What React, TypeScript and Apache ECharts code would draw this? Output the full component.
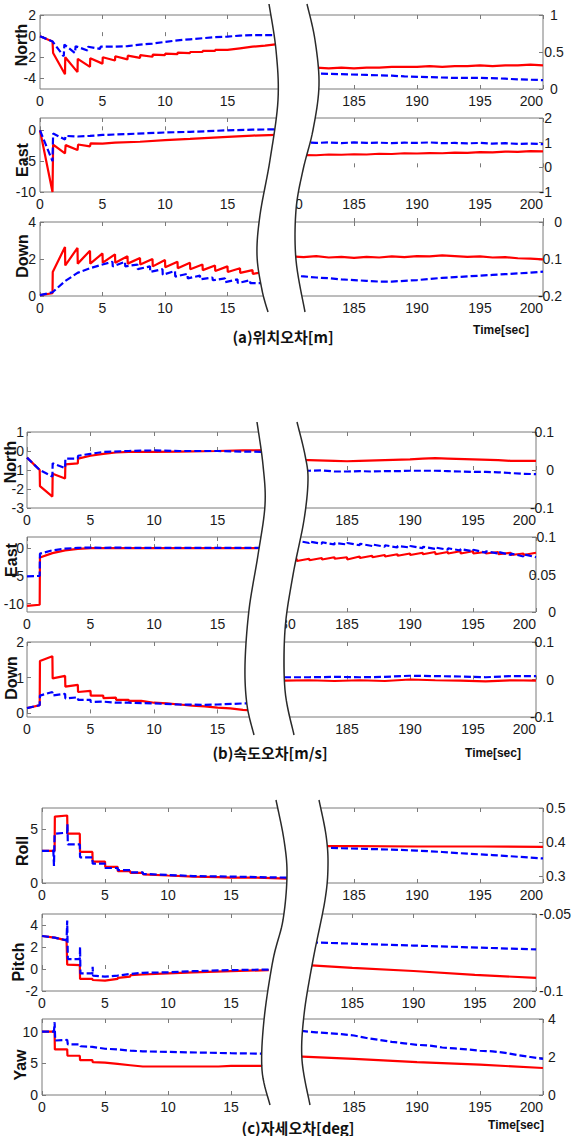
import React, { useEffect, useRef } from "react";
import * as echarts from "echarts";

// ---------- data: [time, value] ----------
// (a) position error
const aNorthRedL = [[0,0],[1,-0.5],[1.05,-1.6],[2,-3.6],[2.02,-2.0],[3,-3.4],[3.02,-2.15],[4,-2.9],[4.02,-2.1],[5,-2.6],[5.02,-2.0],[6,-2.3],[6.02,-1.9],[7,-2.2],[7.02,-1.85],[8,-2.05],[8.02,-1.8],[9,-1.95],[9.02,-1.75],[10,-1.8],[10.02,-1.65],[11,-1.7],[11.02,-1.55],[12,-1.6],[12.02,-1.5],[13,-1.5],[13.02,-1.4],[14,-1.4],[14.02,-1.3],[15,-1.3],[16,-1.15],[17,-1.0],[18,-0.9],[19,-0.75],[19.5,-0.7]];
const aNorthBlueL = [[0,0],[1,-0.5],[1.9,-1.9],[1.95,-0.8],[2.8,-1.6],[2.85,-0.95],[3.8,-1.35],[3.85,-1.0],[4.8,-1.2],[4.85,-1.0],[6,-1.0],[7,-0.95],[8,-0.8],[9,-0.7],[10,-0.55],[11,-0.4],[12,-0.3],[13,-0.2],[14,-0.1],[15,-0.05],[16,0.05],[17,0.1],[18,0.1],[19.5,0.1]];
const aNorthRedR = [[180,0.29],[181,0.28],[182,0.29],[183,0.28],[184,0.29],[185,0.28],[186,0.29],[187,0.29],[188,0.3],[189,0.3],[190,0.3],[191,0.31],[192,0.3],[193,0.31],[194,0.31],[195,0.32],[196,0.31],[197,0.32],[198,0.32],[199,0.33],[200,0.32]];
const aNorthBlueR = [[180,0.21],[182,0.21],[184,0.2],[186,0.19],[188,0.18],[189,0.17],[191,0.16],[193,0.15],[195,0.15],[197,0.14],[198,0.13],[200,0.12]];

const aEastRedL = [[0,0],[1,-10],[1.05,-2.3],[2,-3.75],[2.05,-2.4],[3,-3.2],[3.05,-2.3],[4,-2.6],[4.05,-2.1],[5,-2.15],[6,-2.0],[8,-1.85],[10,-1.6],[12,-1.4],[15,-1.05],[17,-0.85],[19.5,-0.7]];
const aEastBlueL = [[0,0],[1,-5],[1.05,-0.5],[2,-1.5],[2.05,-0.9],[3,-1.0],[4,-0.9],[5,-0.75],[7,-0.6],[10,-0.35],[12,-0.25],[15,0.0],[17,0.1],[19.5,0.2]];
const aEastRedR = [[180,0.48],[181,0.5],[182,0.49],[183,0.52],[184,0.51],[185,0.53],[186,0.52],[187,0.55],[188,0.54],[189,0.57],[190,0.56],[191,0.58],[192,0.57],[193,0.6],[194,0.59],[195,0.62],[196,0.61],[197,0.64],[198,0.63],[199,0.66],[200,0.65]];
const aEastBlueR = [[180,1.0],[181,1.02],[182,0.99],[183,1.01],[184,0.98],[185,1.01],[186,0.99],[187,1.0],[188,0.98],[189,1.0],[190,0.99],[191,1.01],[192,0.98],[193,0.99],[194,0.97],[195,0.99],[196,0.96],[197,0.98],[198,0.95],[199,0.96],[200,0.94]];

const aDownRedL = [[0,0.05],[1,0.15],[1.02,1.3],[2,2.65],[2.02,1.65],[3,2.6],[3.02,1.75],[4,2.45],[4.02,1.75],[5,2.3],[5.02,1.8],[6,2.25],[6.02,1.8],[7,2.15],[7.02,1.75],[8,2.05],[8.02,1.7],[9,2.0],[9.02,1.6],[10,1.95],[10.02,1.55],[11,1.85],[11.02,1.5],[12,1.8],[12.02,1.45],[13,1.7],[13.02,1.4],[14,1.65],[14.02,1.35],[15,1.6],[15.02,1.3],[16,1.5],[16.02,1.25],[17,1.4],[17.02,1.2],[18,1.3]];
const aDownBlueL = [[0,0.05],[1,0.2],[2,0.8],[3,1.25],[4,1.5],[5,1.7],[5.8,1.85],[5.82,1.6],[6.8,1.85],[6.82,1.6],[7.8,1.7],[7.82,1.45],[8.8,1.6],[8.82,1.3],[9.8,1.45],[9.82,1.15],[10.8,1.35],[10.82,1.05],[11.8,1.2],[11.82,0.95],[12.8,1.1],[12.82,0.9],[13.8,1.0],[13.82,0.85],[14.8,0.95],[14.82,0.75],[15.8,0.9],[15.82,0.7],[16.8,0.85],[16.82,0.7],[18,0.7]];
const aDownRedR = [[180,-0.093],[181,-0.095],[182,-0.092],[183,-0.096],[184,-0.094],[185,-0.097],[186,-0.094],[187,-0.096],[188,-0.093],[189,-0.095],[190,-0.092],[191,-0.093],[192,-0.09],[193,-0.092],[194,-0.094],[195,-0.093],[196,-0.096],[197,-0.095],[198,-0.098],[199,-0.099],[200,-0.101]];
const aDownBlueR = [[180,-0.145],[181,-0.147],[182,-0.15],[183,-0.152],[184,-0.155],[185,-0.157],[186,-0.159],[187,-0.161],[188,-0.161],[189,-0.159],[190,-0.157],[191,-0.154],[192,-0.151],[193,-0.149],[194,-0.147],[195,-0.145],[196,-0.143],[197,-0.141],[198,-0.139],[199,-0.137],[200,-0.134]];

// (b) velocity error
const bNorthRedL = [[0,-0.35],[1,-1.0],[1.02,-1.85],[2,-2.4],[2.02,-1.2],[3,-1.45],[3.02,-0.7],[4,-0.65],[4.02,-0.4],[5,-0.25],[6,-0.15],[7,-0.08],[8,-0.05],[10,-0.05],[12,-0.03],[15,0.0],[17,0.03],[19.5,0.05]];
const bNorthBlueL = [[0,-0.35],[1,-1.0],[2,-1.35],[2.02,-0.65],[3,-0.9],[3.02,-0.4],[4,-0.4],[4.02,-0.25],[5,-0.15],[6,-0.05],[8,0.0],[10,0.03],[12,0.0],[15,0.0],[17,-0.03],[19.5,-0.05]];
const bNorthRedR = [[180,0.027],[182,0.026],[184,0.024],[185,0.023],[186,0.024],[188,0.026],[190,0.028],[191,0.03],[192,0.031],[193,0.03],[195,0.028],[197,0.026],[198,0.024],[200,0.024]];
const bNorthBlueR = [[180,0.0],[181,0.0],[182,-0.002],[183,-0.001],[184,-0.004],[185,-0.004],[186,-0.003],[187,-0.004],[188,-0.003],[189,-0.003],[190,-0.002],[191,-0.002],[192,-0.002],[193,-0.003],[194,-0.004],[195,-0.005],[196,-0.005],[197,-0.006],[198,-0.008],[199,-0.01],[200,-0.011]];

const bEastRedL = [[0,-10.4],[1,-10.2],[1.02,-1.7],[2,-0.9],[3,-0.4],[4,-0.15],[5,0.0],[6,0.0],[10,0.0],[15,0.0],[19.5,0.0]];
const bEastBlueL = [[0,-5.1],[1,-5.0],[1.02,-1.0],[2,-0.4],[3,-0.1],[4,0.05],[5,0.1],[6,0.05],[7,0.1],[8,0.05],[10,0.05],[15,0.05],[19.5,0.05]];
const bEastRedR = [[180,0.07],[181,0.071],[181.02,0.068],[182,0.071],[182.02,0.069],[183,0.072],[183.02,0.07],[184,0.073],[184.02,0.071],[185,0.073],[185.02,0.07],[186,0.074],[186.02,0.072],[187,0.075],[187.02,0.073],[188,0.076],[188.02,0.074],[189,0.077],[189.02,0.075],[190,0.078],[190.02,0.076],[191,0.079],[191.02,0.077],[192,0.08],[192.02,0.077],[193,0.08],[193.02,0.078],[194,0.081],[194.02,0.078],[195,0.081],[195.02,0.078],[196,0.08],[196.02,0.078],[197,0.08],[197.02,0.077],[198,0.079],[198.02,0.076],[199,0.078],[199.02,0.076],[200,0.079]];
const bEastBlueR = [[180,0.095],[181,0.093],[181.02,0.095],[182,0.092],[182.02,0.094],[183,0.091],[183.02,0.093],[184,0.09],[184.02,0.092],[185,0.09],[185.02,0.092],[186,0.089],[186.02,0.091],[187,0.088],[187.02,0.09],[188,0.087],[188.02,0.089],[189,0.086],[189.02,0.088],[190,0.086],[190.02,0.088],[191,0.085],[191.02,0.087],[192,0.084],[192.02,0.086],[193,0.083],[193.02,0.085],[194,0.082],[194.02,0.084],[195,0.081],[195.02,0.083],[196,0.079],[196.02,0.081],[197,0.078],[197.02,0.08],[198,0.076],[198.02,0.078],[199,0.074],[199.02,0.077],[200,0.073]];

const bDownRedL = [[0,0.15],[1,0.23],[1.02,1.47],[2,1.6],[2.02,0.98],[3,1.05],[3.02,0.75],[4,0.8],[4.02,0.6],[5,0.63],[5.02,0.5],[6,0.5],[6.02,0.43],[7,0.44],[7.02,0.38],[8,0.38],[8.02,0.35],[9,0.35],[10,0.3],[11,0.28],[12,0.25],[13,0.22],[14,0.2],[15,0.16],[16,0.14],[17,0.1],[18,0.08]];
const bDownBlueL = [[0,0.15],[1,0.23],[1.02,0.5],[2,0.6],[2.02,0.5],[3,0.55],[3.02,0.42],[4,0.45],[4.02,0.38],[5,0.38],[5.02,0.32],[6,0.33],[7,0.3],[8,0.3],[10,0.28],[12,0.25],[14,0.24],[15,0.25],[17,0.28],[18,0.28]];
const bDownRedR = [[180,-0.003],[182,-0.002],[184,-0.004],[186,-0.002],[188,-0.004],[190,0.0],[192,-0.002],[194,-0.003],[196,-0.005],[198,-0.002],[200,-0.003]];
const bDownBlueR = [[180,0.006],[182,0.006],[184,0.007],[186,0.006],[188,0.007],[190,0.01],[192,0.009],[194,0.008],[196,0.006],[198,0.009],[200,0.009]];

// (c) attitude error
const cRollRedL = [[0,3.0],[1,3.0],[1.02,6.2],[2,6.3],[2.02,4.6],[3,4.6],[3.02,2.9],[4,2.9],[4.02,2.0],[5,2.0],[5.02,1.5],[6,1.5],[6.02,1.1],[7,1.1],[7.02,0.95],[8,0.95],[8.02,0.8],[10,0.7],[12,0.6],[14,0.55],[15,0.5],[17,0.5],[19.5,0.4]];
const cRollBlueL = [[0,3.0],[0.9,3.0],[0.95,1.6],[1.0,4.6],[2,4.7],[2.02,5.5],[2.05,3.6],[3,3.6],[3.02,2.4],[4,2.4],[4.02,1.8],[5,1.8],[5.02,1.4],[6,1.4],[6.02,1.2],[7,1.2],[7.02,1.0],[8,1.0],[8.02,0.85],[10,0.75],[12,0.65],[15,0.6],[17,0.55],[19.5,0.5]];
const cRollRedR = [[180,0.388],[185,0.388],[190,0.387],[195,0.387],[200,0.386]];
const cRollBlueR = [[180,0.385],[182,0.384],[184,0.382],[186,0.38],[188,0.378],[190,0.375],[192,0.371],[194,0.366],[196,0.362],[198,0.357],[200,0.352]];

const cPitchRedL = [[0,3.0],[1,2.85],[1.95,2.6],[2,0.4],[3,0.35],[3.02,-0.9],[4,-0.9],[4.02,-1.0],[5,-1.05],[6,-0.9],[6.02,-0.8],[7,-0.7],[7.02,-0.55],[8,-0.5],[10,-0.4],[12,-0.3],[15,-0.2],[18,-0.1]];
const cPitchBlueL = [[0,3.0],[1,2.85],[1.95,2.6],[2,4.4],[2.05,0.9],[3,0.9],[3.02,2.0],[3.05,-0.4],[4,-0.4],[4.02,0.2],[4.05,-0.6],[5,-0.7],[6,-0.6],[7,-0.45],[8,-0.35],[10,-0.3],[12,-0.2],[15,-0.1],[18,-0.05]];
const cPitchRedR = [[180,-0.0825],[185,-0.085],[190,-0.087],[195,-0.0895],[200,-0.0915]];
const cPitchBlueR = [[180,-0.068],[182,-0.0685],[184,-0.069],[186,-0.0695],[188,-0.07],[190,-0.0705],[192,-0.071],[194,-0.0715],[196,-0.072],[198,-0.0725],[200,-0.073]];

const cYawRedL = [[0,10],[1,10],[1.02,7.2],[2,7.2],[2.02,6.2],[3,6.2],[3.02,5.5],[4,5.5],[4.02,5.2],[5,5.1],[6,4.9],[7,4.7],[8,4.5],[10,4.5],[14,4.5],[15,4.6],[18,4.6]];
const cYawBlueL = [[0,10],[0.95,10],[1,11.5],[1.05,8.6],[2,8.7],[2.05,8.0],[3,8.0],[3.05,7.7],[4,7.6],[5,7.3],[6,7.2],[7,7.0],[8,6.9],[10,6.8],[15,6.6],[18,6.5]];
const cYawRedR = [[180,2.05],[185,1.9],[190,1.73],[195,1.6],[200,1.42]];
const cYawBlueR = [[180,3.4],[181,3.36],[182,3.3],[183,3.25],[184,3.2],[185,3.13],[186,3.0],[187,2.9],[188,2.8],[189,2.72],[190,2.64],[191,2.6],[192,2.5],[193,2.45],[194,2.4],[195,2.33],[196,2.3],[197,2.22],[198,2.1],[199,2.0],[200,1.9]];

// texts
const titles = ["North", "East", "Down", "North", "East", "Down", "Roll", "Pitch", "Yaw"];
const captions = ["(a)위치오차[m]", "(b)속도오차[m/s]", "(c)자세오차[deg]"];
const timeLabel = "Time[sec]";

// ---------- layout ----------
const sec = {
  a: { lx0: 40, lx1: 290, rx0: 291, rx1: 543, lm: 4 },
  b: { lx0: 27, lx1: 281, rx0: 284, rx1: 536, lm: 3 },
  c: { lx0: 42, lx1: 294, rx0: 291, rx1: 543, lm: 4 },
};

const rows = [
  { s: sec.a, top: 15, bot: 89, yL: [-5, 2], tL: [-4, -2, 0, 2], yR: [0, 1], tR: [0, 0.5, 1], ra: "center", rm: 11, m180: false, d: [aNorthRedL, aNorthBlueL, aNorthRedR, aNorthBlueR], tp: [21, 45] },
  { s: sec.a, top: 118, bot: 192, yL: [-10, 2], tL: [-10, -5, 0], yR: [-1, 2], tR: [-1, 0, 1, 2], ra: "right", rm: 9, m180: true, d: [aEastRedL, aEastBlueL, aEastRedR, aEastBlueR], tp: [22, 160] },
  { s: sec.a, top: 222, bot: 296, yL: [0, 4], tL: [0, 2, 4], yR: [-0.2, 0], tR: [-0.2, -0.1, 0], ra: "right", rm: 19, m180: false, d: [aDownRedL, aDownBlueL, aDownRedR, aDownBlueR], tp: [22, 256] },
  { s: sec.b, top: 432, bot: 508, yL: [-3, 1], tL: [-3, -2, -1, 0, 1], yR: [-0.1, 0.1], tR: [-0.1, 0, 0.1], ra: "right", rm: 18, m180: false, d: [bNorthRedL, bNorthBlueL, bNorthRedR, bNorthBlueR], tp: [10, 462] },
  { s: sec.b, top: 537, bot: 612, yL: [-11.5, 2], tL: [-10, -5, 0], yR: [0, 0.1], tR: [0, 0.05, 0.1], ra: "right", rm: 20, m180: true, d: [bEastRedL, bEastBlueL, bEastRedR, bEastBlueR], tp: [11, 560] },
  { s: sec.b, top: 642, bot: 717, yL: [-0.1, 2], tL: [0, 1, 2], yR: [-0.1, 0.1], tR: [-0.1, 0, 0.1], ra: "right", rm: 18, m180: false, d: [bDownRedL, bDownBlueL, bDownRedR, bDownBlueR], tp: [11, 678] },
  { s: sec.c, top: 808, bot: 883, yL: [0, 7], tL: [0, 5], yR: [0.28, 0.5], tR: [0.3, 0.4, 0.5], ra: "left", rm: 3, m180: false, d: [cRollRedL, cRollBlueL, cRollRedR, cRollBlueR], tp: [22, 851] },
  { s: sec.c, top: 914, bot: 991, yL: [-2, 5], tL: [-2, 0, 2, 4], yR: [-0.1, -0.05], tR: [-0.1, -0.05], ra: "left", rm: 3, m180: false, d: [cPitchRedL, cPitchBlueL, cPitchRedR, cPitchBlueR], tp: [18, 962] },
  { s: sec.c, top: 1019, bot: 1095, yL: [0, 12], tL: [0, 5, 10], yR: [0, 4], tR: [0, 2, 4], ra: "left", rm: 5, m180: false, d: [cYawRedL, cYawBlueL, cYawRedR, cYawBlueR], tp: [20, 1065] },
];

const gaps = [
  {
    l: [[269, 4], [276, 50], [278, 100], [270, 160], [260, 215], [257, 255], [262, 290], [268, 312]],
    r: [[307, 4], [315, 40], [319, 85], [313, 130], [303, 170], [296, 210], [296, 260], [305, 312]],
  },
  {
    l: [[257, 422], [263, 465], [265, 505], [258, 555], [249, 610], [245, 665], [247, 705], [254, 735]],
    r: [[297, 422], [305, 455], [308, 480], [304, 520], [293, 575], [285, 630], [285, 690], [294, 735]],
  },
  {
    l: [[276, 800], [284, 840], [287, 875], [283, 920], [273, 960], [264, 1020], [262, 1070], [270, 1105]],
    r: [[319, 800], [326, 835], [328, 865], [325, 900], [313, 960], [304, 1015], [302, 1060], [310, 1105]],
  },
];

const captionPos = [[283, 336], [270, 752], [298, 1127]];
const timePos = [[501, 330], [493, 753], [516, 1125]];

function spline(pts: number[][], n = 10) {
  const out: number[][] = [];
  for (let i = 0; i < pts.length - 1; i++) {
    const p0 = pts[Math.max(i - 1, 0)], p1 = pts[i], p2 = pts[i + 1], p3 = pts[Math.min(i + 2, pts.length - 1)];
    for (let k = 0; k < n; k++) {
      const t = k / n, t2 = t * t, t3 = t2 * t;
      const f = (a: number, b: number, c: number, d: number) =>
        0.5 * (2 * b + (-a + c) * t + (2 * a - 5 * b + 4 * c - d) * t2 + (-a + 3 * b - 3 * c + d) * t3);
      out.push([f(p0[0], p1[0], p2[0], p3[0]), f(p0[1], p1[1], p2[1], p3[1])]);
    }
  }
  out.push(pts[pts.length - 1]);
  return out;
}

const FONT = "'Liberation Sans', Arial, sans-serif";
const GRAY = "#7a7a7a";
const LBL = "#1a1a1a";

function buildOption() {
  const grid: any[] = [], xAxis: any[] = [], yAxis: any[] = [], series: any[] = [], graphic: any[] = [];
  rows.forEach((r, i) => {
    const h = r.bot - r.top;
    const panels = [
      { left: r.s.lx0, width: r.s.lx1 - r.s.lx0, xr: [0, 20], side: "left", yr: r.yL, ticks: r.tL, d: [r.d[0], r.d[1]] },
      { left: r.s.rx0, width: r.s.rx1 - r.s.rx0, xr: [180, 200], side: "right", yr: r.yR, ticks: r.tR, d: [r.d[2], r.d[3]] },
    ];
    panels.forEach((p) => {
      const gi = grid.length;
      const isR = p.side === "right";
      grid.push({ left: p.left, top: r.top, width: p.width, height: h, show: true, borderColor: GRAY, borderWidth: 1, backgroundColor: "transparent" });
      const xi = xAxis.length;
      const xLabel: any = { show: true, margin: 5, fontSize: 14, color: LBL, fontFamily: FONT, showMaxLabel: isR, showMinLabel: isR ? r.m180 : true };
      if (isR) xLabel.alignMaxLabel = "right";
      xAxis.push({
        type: "value", gridIndex: gi, min: p.xr[0], max: p.xr[1], interval: 5, position: "bottom",
        axisLine: { show: false }, splitLine: { show: false },
        axisTick: { show: true, inside: true, length: 4, lineStyle: { color: GRAY } },
        axisLabel: xLabel,
      });
      xAxis.push({
        type: "value", gridIndex: gi, min: p.xr[0], max: p.xr[1], interval: 5, position: "top",
        axisLine: { show: false }, splitLine: { show: false },
        axisTick: { show: true, inside: true, length: 4, lineStyle: { color: GRAY } },
        axisLabel: { show: false },
      });
      const yi = yAxis.length;
      yAxis.push({
        type: "value", gridIndex: gi, min: p.yr[0], max: p.yr[1], position: p.side,
        axisLine: { show: false }, splitLine: { show: false },
        axisTick: { show: true, inside: true, length: 4, lineStyle: { color: GRAY }, customValues: p.ticks },
        axisLabel: {
          show: true, fontSize: 14, color: LBL, fontFamily: FONT, customValues: p.ticks,
          margin: isR ? r.rm : r.s.lm, align: isR ? r.ra : "right",
          formatter: (v: number) => String(Math.round(v * 1000) / 1000),
        },
      });
      series.push({
        type: "line", xAxisIndex: xi, yAxisIndex: yi, data: p.d[0], showSymbol: false, symbol: "none", z: 3,
        lineStyle: { color: "#ff0000", width: 2.2 }, clip: true,
      });
      series.push({
        type: "line", xAxisIndex: xi, yAxisIndex: yi, data: p.d[1], showSymbol: false, symbol: "none", z: 4,
        lineStyle: { color: "#0000ff", width: 2.2, type: [7, 3] }, clip: true,
      });
    });
    graphic.push({
      type: "text", x: r.tp[0], y: r.tp[1], rotation: Math.PI / 2, z: 120,
      style: { text: titles[i], font: `bold 16px ${FONT}`, fill: "#111", textAlign: "center", textVerticalAlign: "middle" },
    });
  });

  gaps.forEach((g) => {
    const L = spline(g.l), R = spline(g.r);
    const l0 = L[0], ln = L[L.length - 1], r0 = R[0], rn = R[R.length - 1];
    const fill = [[l0[0], l0[1] - 10]].concat(L, [[ln[0], ln[1] + 14], [rn[0], rn[1] + 14]], R.slice().reverse(), [[r0[0], r0[1] - 10]]);
    graphic.push({ type: "polygon", z: 100, shape: { points: fill }, style: { fill: "#ffffff", stroke: "none" } });
    graphic.push({ type: "polyline", z: 101, shape: { points: L }, style: { stroke: "#2a2a2a", lineWidth: 1.5, fill: "none" } });
    graphic.push({ type: "polyline", z: 101, shape: { points: R }, style: { stroke: "#2a2a2a", lineWidth: 1.5, fill: "none" } });
  });

  captions.forEach((c, i) => {
    graphic.push({
      type: "text", x: captionPos[i][0], y: captionPos[i][1], z: 120,
      style: { text: c, font: `bold 15px 'Noto Sans CJK KR', sans-serif`, fill: "#111", textAlign: "center", textVerticalAlign: "middle" },
    });
    graphic.push({
      type: "text", x: timePos[i][0], y: timePos[i][1], z: 120,
      style: { text: timeLabel, font: `bold 12px ${FONT}`, fill: "#111", textAlign: "center", textVerticalAlign: "middle" },
    });
  });

  return { animation: false, backgroundColor: "#ffffff", grid, xAxis, yAxis, series, graphic };
}

export default function App() {
  const ref = useRef<HTMLDivElement>(null);
  useEffect(() => {
    const chart = echarts.init(ref.current!, null, { renderer: "svg" });
    chart.setOption(buildOption() as any);
    return () => chart.dispose();
  }, []);
  return <div ref={ref} style={{ position: "absolute", left: 0, top: 0, width: 574, height: 1136, background: "#fff" }} />;
}
